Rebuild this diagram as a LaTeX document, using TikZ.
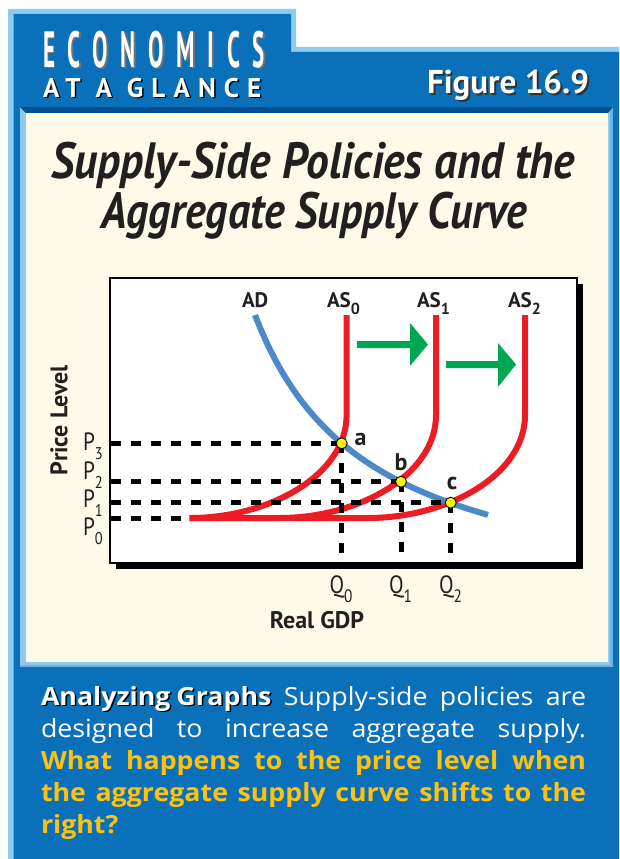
\documentclass[tikz,border=0pt]{standalone}
\usepackage{fontspec}
\setmainfont{PT Sans}
\newfontfamily\titlefonta[FakeStretch=0.89]{PT Sans}
\newfontfamily\titlefontb[FakeStretch=0.86]{PT Sans}
\newfontfamily\condfont[FakeStretch=0.85]{PT Sans}
\newfontfamily\econfont[FakeStretch=0.45,LetterSpace=25]{PT Sans}
\newfontfamily\glancefont[LetterSpace=30]{PT Sans}
\newfontfamily\parafont[FakeStretch=1.07]{Open Sans}
\definecolor{frameblue}{HTML}{0A70B9}
\definecolor{edgeblue}{HTML}{8ECBF0}
\definecolor{bevelblue}{HTML}{6FB3E3}
\definecolor{darkband}{HTML}{00508F}
\definecolor{cream}{HTML}{FEFAE9}
\definecolor{asred}{HTML}{ED1C24}
\definecolor{adblue}{HTML}{4C89C8}
\definecolor{arrgreen}{HTML}{00A651}
\definecolor{dotyellow}{HTML}{FFF200}
\definecolor{qyellow}{HTML}{FFC20E}
\definecolor{ink}{HTML}{231F20}
\newcommand{\psub}[1]{\raisebox{-9pt}{\fontsize{17}{17}\selectfont #1}}
\newcommand{\qsub}[1]{\raisebox{-9pt}{\fontsize{18}{18}\selectfont #1}}
\newcommand{\assub}[1]{\raisebox{-7pt}{\fontsize{16}{16}\selectfont #1}}
\begin{document}
\begin{tikzpicture}[x=1pt,y=-1pt,
  every node/.style={inner sep=0pt, outer sep=0pt},
  asline/.style={draw=asred, line width=6pt},
  adline/.style={draw=adblue, line width=6pt},
  dashline/.style={draw=black, line width=5pt, dash pattern=on 10pt off 10pt},
  eqdot/.style={circle, fill=dotyellow, draw=black, line width=0.9pt, minimum size=11pt},
  ptlabel/.style={font=\condfont\fontsize{25}{25}\selectfont, text=ink, anchor=base west},
  qlabel/.style={font=\condfont\fontsize{25}{25}\selectfont, text=ink, anchor=base},
  curvelabel/.style={font=\bfseries\fontsize{21}{21}\selectfont, text=ink, anchor=base west},
  pointlabel/.style={font=\bfseries\fontsize{24}{24}\selectfont, text=ink, anchor=base},
  axislabel/.style={font=\bfseries\fontsize{24}{24}\selectfont, text=ink},
  greenarrow/.style={fill=arrgreen}]
\useasboundingbox (0,0) rectangle (619,859);
\fill[white] (0,0) rectangle (619,859);
% frame
\fill[edgeblue] (8,9) -- (296,9) -- (296,47) -- (619,47) -- (619,859) -- (8,859) -- cycle;
\fill[frameblue] (13.5,14) -- (291,14) -- (291,52) -- (619,52) -- (619,859) -- (13.5,859) -- cycle;
% cream panel
\fill[bevelblue] (20,107) rectangle (613,667);
\fill[edgeblue] (20,107) rectangle (610,664.5);
\fill[darkband] (20,107) -- (613,107) -- (608,113) -- (26,113) -- cycle;
\fill[cream] (26,113) rectangle (607.5,662);
% header texts
\node[anchor=base west, text=black!55, font=\econfont\bfseries\fontsize{51}{51}\selectfont] (econshadow) at (44.5,68.5) {ECONOMICS};
\node[anchor=base west, text=white, font=\econfont\bfseries\fontsize{51}{51}\selectfont] (econ) at (43,67) {ECONOMICS};
\node[anchor=base west, text=black, font=\glancefont\bfseries\fontsize{27}{27}\selectfont] (glanceshadow) at (44.5,98.5) {AT A GLANCE};
\node[anchor=base west, text=white, font=\glancefont\bfseries\fontsize{27}{27}\selectfont] (glance) at (43,97) {AT A GLANCE};
\node[anchor=base west, text=black!80, font=\bfseries\fontsize{33}{33}\selectfont] (figshadow) at (429,95) {Figure 16.9};
\node[anchor=base west, text=white, font=\bfseries\fontsize{33}{33}\selectfont] (fig) at (427,93) {Figure 16.9};
% title
\node[anchor=base, text=ink, font=\titlefonta\bfseries\itshape\fontsize{51}{51}\selectfont] (title1) at (313,178) {Supply-Side Policies and the};
\node[anchor=base, text=ink, font=\titlefontb\bfseries\itshape\fontsize{51}{51}\selectfont] (title2) at (314,228) {Aggregate Supply Curve};
% chart box
\fill[black] (116,284) rectangle (583,569);
\draw[black, line width=2pt, fill=white] (110,278) rectangle (577,563);
% coordinates
\coordinate (ea) at (341.7,443.3);
\coordinate (eb) at (401,481.7);
\coordinate (ec) at (450.7,502.7);
\coordinate (yp3) at (111,443.3);
\coordinate (yp2) at (111,481.7);
\coordinate (yp1) at (111,502.7);
\coordinate (yp0) at (111,518);
\coordinate (asend) at (189.6,518);
\coordinate (xqa) at (341.7,562);
\coordinate (xqb) at (401,562);
\coordinate (xqc) at (450.7,562);
\coordinate (as0top) at (346.6,315);
\coordinate (as1top) at (436,315);
\coordinate (as2top) at (525,315);
% AS curves
\draw[asline] (as0top) -- (346.6,415) .. controls (346.6,475) and (269.6,518) .. (asend);
\draw[asline] (as1top) -- (436,415) .. controls (436,475) and (359,518) .. (279,518) -- (asend);
\draw[asline] (as2top) -- (525,415) .. controls (525,475) and (448,518) .. (368,518) -- (asend);
% AD curve
\draw[adline] plot[domain=255:488, samples=80, smooth] (\x, {613.5 - 343.23/(\x/100 - 1.4)});
% dashed guides
\draw[dashline] (yp3) -- (ea);
\draw[dashline] (yp2) -- (eb);
\draw[dashline] (yp1) -- (ec);
\draw[dashline] (yp0) -- (asend);
\draw[dashline] (ea) -- (xqa);
\draw[dashline] (eb) -- (xqb);
\draw[dashline] (ec) -- (xqc);
% equilibrium dots
\node[eqdot] (dota) at (ea) {};
\node[eqdot] (dotb) at (eb) {};
\node[eqdot] (dotc) at (ec) {};
\node[pointlabel] (la) at (360.5,445) {a};
\node[pointlabel] (lb) at (401,470) {b};
\node[pointlabel] (lc) at (452,489) {c};
% green arrows
\fill[greenarrow] (357,341) -- (410,341) -- (410,323) -- (428,344.5) -- (410,366) -- (410,348) -- (357,348) -- cycle;
\fill[greenarrow] (446,361) -- (498,361) -- (498,343) -- (516,364.5) -- (498,387) -- (498,368) -- (446,368) -- cycle;
% curve labels
\node[curvelabel] (lad) at (242,307) {AD};
\node[curvelabel] (las0) at (327,307) {AS\assub{0}};
\node[curvelabel] (las1) at (417,307) {AS\assub{1}};
\node[curvelabel] (las2) at (508,307) {AS\assub{2}};
% price labels
\node[ptlabel] (p3) at (83,450) {P\psub{3}};
\node[ptlabel] (p2) at (83,479) {P\psub{2}};
\node[ptlabel] (p1) at (83,507) {P\psub{1}};
\node[ptlabel] (p0) at (83,535) {P\psub{0}};
% quantity labels
\node[qlabel] (q0) at (341,593) {Q\qsub{0}};
\node[qlabel] (q1) at (400.5,593) {Q\qsub{1}};
\node[qlabel] (q2) at (450.5,593) {Q\qsub{2}};
% axis labels
\node[axislabel, rotate=90] (ylab) at (59,420) {Price Level};
\node[axislabel, anchor=base] (xlab) at (317,628) {Real GDP};
% caption
\node[anchor=base west, text=black, font=\parafont\bfseries\fontsize{25}{32}\selectfont] (capshadow) at (42.5,706.5) {Analyzing\hspace{6pt}Graphs};
\node[anchor=north west, text width=545pt, align=justify, font=\parafont\fontsize{25}{32}\selectfont] (caption) at (41,686)
{{\bfseries\color{white}Analyzing\hspace{6pt}Graphs} {\color{white}Supply-side policies are\linebreak designed to increase aggregate supply.}\linebreak {\bfseries\color{qyellow}What happens to the price level when\linebreak the aggregate supply curve shifts to the\linebreak right?}};
\end{tikzpicture}
\end{document}
